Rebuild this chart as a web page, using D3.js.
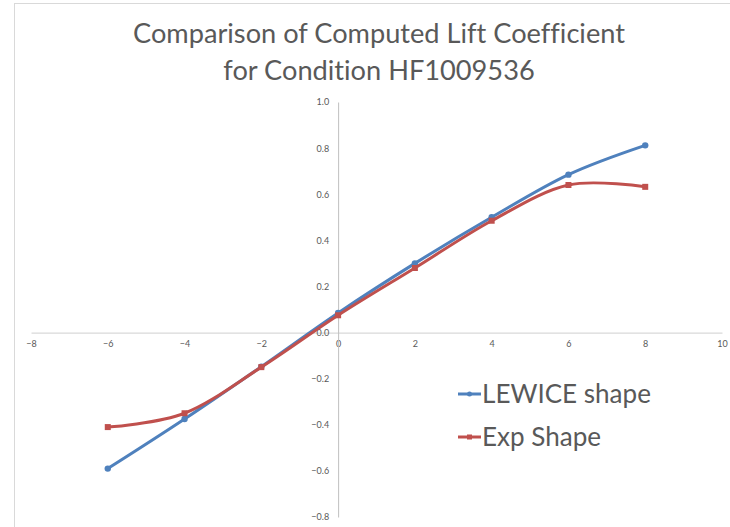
<!DOCTYPE html>
<html><head><meta charset="utf-8">
<script src="https://cdn.jsdelivr.net/npm/d3@7"></script>
<style>body{margin:0;background:#fff;} svg{display:block;} text{font-variant-ligatures:none;}</style>
</head><body>
<svg id="c" width="730" height="527"></svg>
<script>
const xValues = [-6, -4, -2, 0, 2, 4, 6, 8];
const lewiceShape = [-0.59, -0.375, -0.148, 0.085, 0.30, 0.50, 0.685, 0.812];
const expShape = [-0.41, -0.35, -0.15, 0.075, 0.28, 0.485, 0.64, 0.632];
const xTicks = [-8, -6, -4, -2, 0, 2, 4, 6, 8, 10];
const yTicks = [-0.8, -0.6, -0.4, -0.2, 0.0, 0.2, 0.4, 0.6, 0.8, 1.0];
const seriesNames = ["LEWICE shape", "Exp Shape"];
const titleLines = ["Comparison of Computed Lift Coefficient", "for Condition HF1009536"];

const svg = d3.select("#c");
const font = "Lato, 'Open Sans', sans-serif";
const grey = "#595959";

svg.append("rect").attr("x", 14.5).attr("y", 3.5).attr("width", 740).attr("height", 540)
  .attr("fill", "#fff").attr("stroke", "#d9d9d9").attr("stroke-width", 1);

const x = d3.scaleLinear().domain([-8, 10]).range([31, 722]);
const y = d3.scaleLinear().domain([-0.8, 1.0]).range([517, 102]);

// axes
const xAxis = d3.axisBottom(x).tickValues(xTicks).tickSize(0).tickPadding(8).tickFormat(d3.format("d"));
const gx = svg.append("g").attr("transform", `translate(0,${y(0)})`).call(xAxis);
gx.select(".domain").attr("stroke", "#d9d9d9").attr("stroke-width", 1.3);
gx.selectAll("text").attr("fill", grey).style("font-family", font).style("font-size", "9px");

const yAxis = d3.axisLeft(y).tickValues(yTicks).tickSize(0).tickPadding(9).tickFormat(d3.format(".1f"));
const gy = svg.append("g").attr("transform", `translate(${x(0)},0)`).call(yAxis);
gy.select(".domain").attr("stroke", "#bfbfbf").attr("stroke-width", 1);
gy.selectAll("text").attr("fill", grey).style("font-family", font).style("font-size", "9px");

// fit helper: scale font size so text reaches target width
function fit(sel, target) {
  const fs = parseFloat(sel.style("font-size"));
  const w = sel.node().getComputedTextLength();
  if (w > 0) sel.style("font-size", (fs * target / w).toFixed(2) + "px");
}

// title
const t1 = svg.append("text").attr("text-anchor", "middle").attr("fill", grey)
  .attr("x", 379).attr("y", 43).style("font-family", font).style("font-size", "28px").text(titleLines[0]);
fit(t1, 492);
const t2 = svg.append("text").attr("text-anchor", "middle").attr("fill", grey)
  .attr("x", 379).attr("y", 80).style("font-family", font).style("font-size", t1.style("font-size")).text(titleLines[1]);

// series
const colors = ["#4F81BD", "#C0504D"];
const data = [lewiceShape, expShape];
const line = d3.line().x(d => x(d[0])).y(d => y(d[1])).curve(d3.curveCardinal.tension(0));
data.forEach((vals, si) => {
  const pts = xValues.map((xv, i) => [xv, vals[i]]);
  svg.append("path").datum(pts).attr("d", line).attr("fill", "none")
    .attr("stroke", colors[si]).attr("stroke-width", 3).attr("stroke-linecap", "round");
  if (si === 0) {
    svg.append("g").selectAll("circle").data(pts).join("circle")
      .attr("cx", d => x(d[0])).attr("cy", d => y(d[1])).attr("r", 3.2).attr("fill", colors[si]);
  } else {
    svg.append("g").selectAll("rect").data(pts).join("rect")
      .attr("x", d => x(d[0]) - 3).attr("y", d => y(d[1]) - 3).attr("width", 6).attr("height", 6).attr("fill", colors[si]);
  }
});

// legend
let legendSize = null;
seriesNames.forEach((name, i) => {
  const ly = 394 + i * 43;
  const g = svg.append("g");
  g.append("line").attr("x1", 458).attr("x2", 481).attr("y1", ly).attr("y2", ly)
    .attr("stroke", colors[i]).attr("stroke-width", 3);
  if (i === 0) g.append("circle").attr("cx", 469.5).attr("cy", ly).attr("r", 2.5).attr("fill", colors[i]);
  else g.append("rect").attr("x", 467).attr("y", ly - 2.5).attr("width", 5).attr("height", 5).attr("fill", colors[i]);
  const t = g.append("text").attr("x", 482).attr("y", ly + 9).attr("fill", grey)
    .style("font-family", font).style("font-size", legendSize || "24px").text(name);
  if (i === 0) { fit(t, 169); legendSize = t.style("font-size"); }
});
</script>
</body></html>
